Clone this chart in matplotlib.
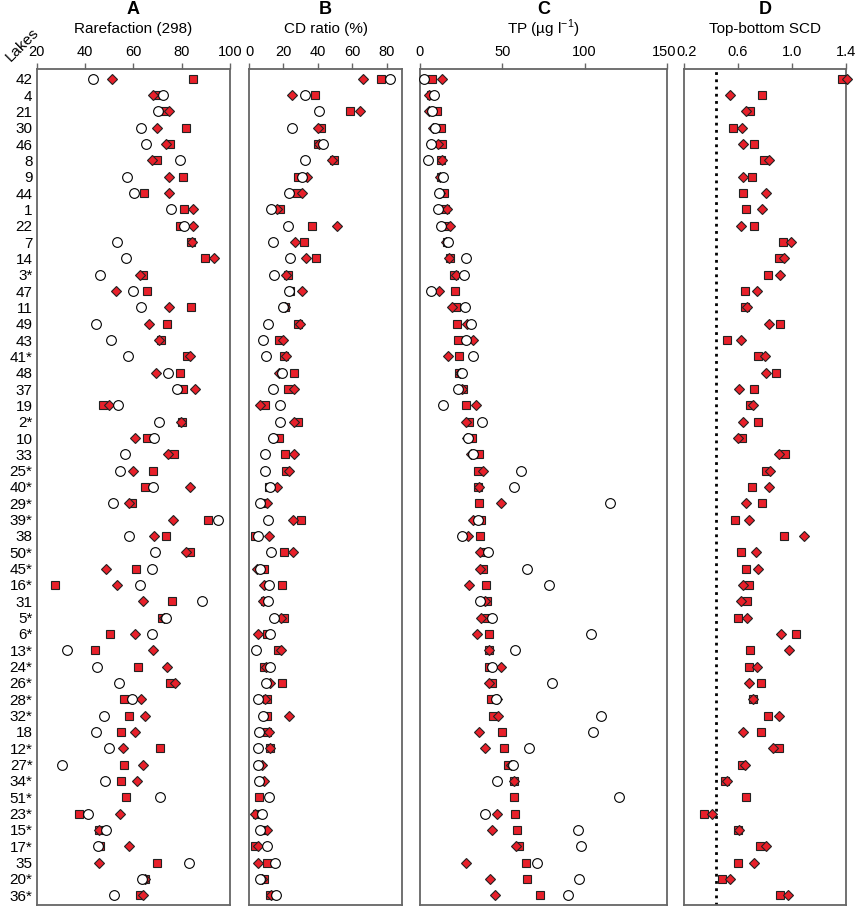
import numpy as np
import matplotlib
matplotlib.use('Agg')
import matplotlib.pyplot as plt
from matplotlib.transforms import ScaledTranslation

plt.rcParams['font.family'] = ['Liberation Sans', 'DejaVu Sans']

nan = np.nan

lakes = ['42', '4', '21', '30', '46', '8', '9', '44', '1', '22', '7', '14', '3*', '47', '11',
         '49', '43', '41*', '48', '37', '19', '2*', '10', '33', '25*', '40*', '29*', '39*', '38',
         '50*', '45*', '16*', '31', '5*', '6*', '13*', '24*', '26*', '28*', '32*', '18', '12*',
         '27*', '34*', '51*', '23*', '15*', '17*', '35', '20*', '36*']

# A - Rarefaction (298)
a_circle = [43.2, 72.3, 70.3, 63.2, 65.1, 79.3, 57.2, 60.3, 75.4, 81.1, 53.1, 57.0, 46.1, 59.7, 63.3,
            44.4, 50.8, 57.8, 74.5, 78.2, 53.8, 70.8, 68.6, 56.6, 54.5, 68.1, 51.7, 95.2, 58.2, 69.0,
            67.7, 62.9, 88.4, 73.4, 67.7, 32.6, 45.1, 54.1, 59.4, 48.0, 44.7, 50.1, 30.5, 48.3, 71.2,
            41.4, 48.8, 45.2, 82.9, 63.4, 51.9]
a_square = [84.8, 69.2, 72.8, 81.8, 75.2, 69.7, 80.4, 64.6, 81.0, 79.3, 83.7, 89.7, 64.1, 65.7, 83.9,
            73.8, 71.3, 82.3, 79.3, 80.7, 47.6, 80.3, 65.5, 76.8, 68.3, 65.0, 59.6, 91.0, 73.5, 83.4,
            61.0, 27.6, 76.0, 71.7, 50.3, 44.3, 61.8, 75.3, 56.1, 58.1, 54.8, 71.0, 56.0, 55.0, 56.8,
            37.7, 45.7, 46.2, 69.9, 64.8, 62.9]
a_diamond = [51.0, 68.0, 74.9, 69.7, 73.4, 67.9, 74.6, 74.8, 84.8, 84.8, 84.4, 93.5, 62.9, 52.7, 74.9,
             66.6, 70.8, 83.4, 69.5, 85.7, 49.9, 79.9, 60.7, 74.3, 59.9, 83.3, 58.3, 76.3, 68.6, 81.7,
             48.8, 53.4, 64.1, 72.7, 60.8, 68.3, 73.9, 77.1, 63.2, 64.8, 60.8, 55.6, 64.1, 61.4, nan,
             54.3, 45.8, 58.3, 45.8, 64.8, 64.1]

# B - CD ratio (%)
b_circle = [82.1, 32.8, 41.0, 25.2, 42.9, 32.4, 30.8, 23.2, 12.9, 22.4, 14.2, 23.8, 14.8, 23.4, 19.5,
            11.1, 8.0, 10.0, 19.3, 13.9, 18.1, 18.0, 13.7, 9.2, 9.4, 12.5, 6.6, 11.3, 5.5, 12.9,
            6.6, 11.9, 11.1, 14.6, 12.1, 3.9, 12.3, 10.1, 5.5, 8.2, 5.7, 5.5, 5.5, 5.9, 11.7,
            7.8, 6.6, 10.5, 15.2, 6.2, 15.6]
b_square = [76.5, 38.6, 58.5, 41.8, 40.2, 49.4, 28.7, 27.7, 18.1, 36.5, 32.2, 39.2, 22.8, 23.8, 20.7,
            28.5, 17.4, 20.3, 26.1, 22.6, 9.4, 28.5, 17.2, 21.1, 21.3, 11.7, 8.4, 30.0, 3.5, 20.3,
            8.8, 19.3, 9.4, 20.3, 10.3, 16.8, 9.0, 19.1, 10.7, 10.7, 10.3, 12.1, 5.9, 6.4, 5.9,
            4.5, 7.4, 3.5, 10.5, 9.0, 12.1]
b_diamond = [66.5, 25.2, 64.6, 40.2, 40.6, 48.0, 33.8, 30.8, 16.2, 51.3, 26.5, 33.0, 21.7, 30.8, 21.1,
             29.7, 19.5, 21.5, 17.2, 26.1, 6.2, 26.3, 14.2, 26.0, 23.0, 16.4, 10.3, 25.8, 11.7, 25.6,
             4.5, 9.0, 8.0, 18.7, 5.1, 18.5, 9.6, 12.3, 9.4, 23.4, 11.5, 12.1, 7.4, 8.8, nan,
             3.5, 10.5, 5.1, 5.1, 7.4, 12.9]

# C - TP
c_circle = [2.4, 8.5, 7.3, 8.9, 6.5, 4.9, 13.8, 11.4, 10.7, 12.6, 17.0, 28.0, 26.8, 6.7, 27.6,
            30.8, 28.0, 32.4, 25.7, 23.1, 14.2, 37.9, 29.0, 32.4, 61.4, 56.8, 115.5, 35.5, 25.7, 41.4,
            65.1, 78.2, 36.7, 43.8, 104.0, 57.6, 44.0, 80.3, 46.0, 110.1, 105.0, 65.9, 56.2, 47.0, 120.6,
            39.3, 96.1, 97.9, 71.0, 96.3, 90.0]
c_square = [7.3, 6.5, 10.5, 13.0, 13.4, 13.0, 12.6, 14.6, 15.4, 16.6, 16.2, 18.2, 20.7, 21.3, 21.9,
            22.5, 23.3, 23.5, 23.5, 26.4, 28.0, 30.0, 31.8, 36.1, 35.5, 35.5, 36.1, 36.9, 36.7, 38.1,
            38.1, 40.1, 40.9, 40.5, 41.6, 42.0, 42.0, 43.8, 43.4, 44.6, 49.7, 51.3, 53.7, 57.2, 57.0,
            57.6, 59.2, 60.4, 64.3, 64.7, 73.0]
c_diamond = [13.4, 5.7, 5.7, 7.7, 10.9, 13.6, 12.2, 12.2, 16.6, 18.2, 15.6, 17.4, 21.7, 11.4, 19.5,
             28.8, 32.0, 17.2, 24.5, 25.3, 34.1, 28.0, 28.5, 31.0, 38.3, 36.1, 49.3, 32.4, 29.0, 36.7,
             36.7, 29.6, 39.5, 37.1, 34.5, 42.0, 49.1, 41.8, 46.6, 47.6, 36.1, 39.5, 55.0, 57.2, nan,
             46.8, 43.8, 58.4, 27.8, 42.6, 45.4]

# D - Top-bottom SCD
d_square = [1.37, 0.78, 0.69, 0.56, 0.72, 0.79, 0.70, 0.64, 0.66, 0.72, 0.93, 0.90, 0.82, 0.65, 0.65,
            0.91, 0.52, 0.75, 0.88, 0.72, 0.69, 0.75, 0.63, 0.95, 0.81, 0.70, 0.78, 0.58, 0.94, 0.62,
            0.66, 0.68, 0.67, 0.60, 1.03, 0.69, 0.68, 0.77, 0.71, 0.82, 0.77, 0.90, 0.63, 0.50, 0.66,
            0.35, 0.60, 0.76, 0.60, 0.48, 0.91]
d_diamond = [1.41, 0.54, 0.66, 0.63, 0.64, 0.83, 0.64, 0.81, 0.78, 0.62, 0.99, 0.94, 0.91, 0.74, 0.67,
             0.83, 0.62, 0.80, 0.81, 0.61, 0.71, 0.64, 0.60, 0.90, 0.84, 0.83, 0.66, 0.68, 1.09, 0.73,
             0.75, 0.64, 0.62, 0.67, 0.92, 0.98, 0.74, 0.68, 0.71, 0.90, 0.64, 0.86, 0.65, 0.52, nan,
             0.41, 0.61, 0.81, 0.72, 0.54, 0.97]
d_threshold = 0.44

red = '#e8202a'
edge = '#222222'
spine_col = '#666666'

fig = plt.figure(figsize=(8.56, 9.10), dpi=100)
bottom, height = 1 - 905 / 910, (905 - 69) / 910
panels = [
    # left px, width px, letter, label, xlim, xticks, ticklabels
    (36.7, 193.3, 'A', 'Rarefaction (298)', (20, 100), [20, 40, 60, 80, 100], None),
    (249, 153, 'B', 'CD ratio (%)', (0, 89), [0, 20, 40, 60, 80], None),
    (420, 247, 'C', r'TP (µg l$^{\mathregular{-1}}$)', (0, 150), [0, 50, 100, 150], None),
    (684, 162, 'D', 'Top-bottom SCD', (0.2, 1.4), [0.2, 0.6, 1.0, 1.4], ['0.2', '0.6', '1.0', '1.4']),
]
series = [
    (a_circle, a_square, a_diamond),
    (b_circle, b_square, b_diamond),
    (c_circle, c_square, c_diamond),
    (None, d_square, d_diamond),
]

y = np.arange(len(lakes))
axes = []
for (left, width, letter, label, xlim, xt, xtl), (circ, sq, dia) in zip(panels, series):
    ax = fig.add_axes([left / 856, bottom, width / 856, height])
    ax.plot(sq, y, 's', ms=5.5, mfc=red, mec=edge, mew=0.8, ls='none', clip_on=False, zorder=3)
    ax.plot(dia, y, 'D', ms=5.4, mfc=red, mec=edge, mew=0.8, ls='none', clip_on=False, zorder=4)
    if circ is not None:
        ax.plot(circ, y, 'o', ms=7, mfc='white', mec='black', mew=0.8, ls='none', clip_on=False, zorder=5)
    ax.set_xlim(*xlim)
    ax.set_ylim(len(lakes) - 0.4, -0.6)
    ax.set_xticks(xt)
    if xtl:
        ax.set_xticklabels(xtl)
    ax.xaxis.tick_top()
    ax.tick_params(axis='x', direction='out', length=4, width=1, color=spine_col, labelsize=10.5, pad=3)
    for s in ax.spines.values():
        s.set_color(spine_col)
        s.set_linewidth(1.3)
    ax.set_yticks(y)
    if letter == 'A':
        ax.set_yticklabels(lakes, fontsize=11)
        ax.tick_params(axis='y', length=0, pad=3)
    else:
        ax.set_yticklabels([])
        ax.tick_params(axis='y', length=0)
    if letter == 'D':
        ax.axvline(d_threshold, color='black', ls=(0, (1, 1.6)), lw=2, zorder=1)
    cx = (left + width / 2) / 856
    fig.text(cx, 1 - 10 / 910, letter, ha='center', va='center', fontsize=13, fontweight='bold')
    fig.text(cx, 1 - 29 / 910, label, ha='center', va='center', fontsize=11)
    axes.append(ax)

# "150" of C and "0.2" of D touch in the original; nudge them apart a little
lab150 = axes[2].xaxis.get_major_ticks()[-1].label2
lab150.set_transform(lab150.get_transform() + ScaledTranslation(-3 / 100, 0, fig.dpi_scale_trans))
lab02 = axes[3].xaxis.get_major_ticks()[0].label2
lab02.set_transform(lab02.get_transform() + ScaledTranslation(3 / 100, 0, fig.dpi_scale_trans))

fig.text(22 / 856, 1 - 45 / 910, 'Lakes', rotation=45, ha='center', va='center', fontsize=11)

fig.savefig('out.png', dpi=100)
